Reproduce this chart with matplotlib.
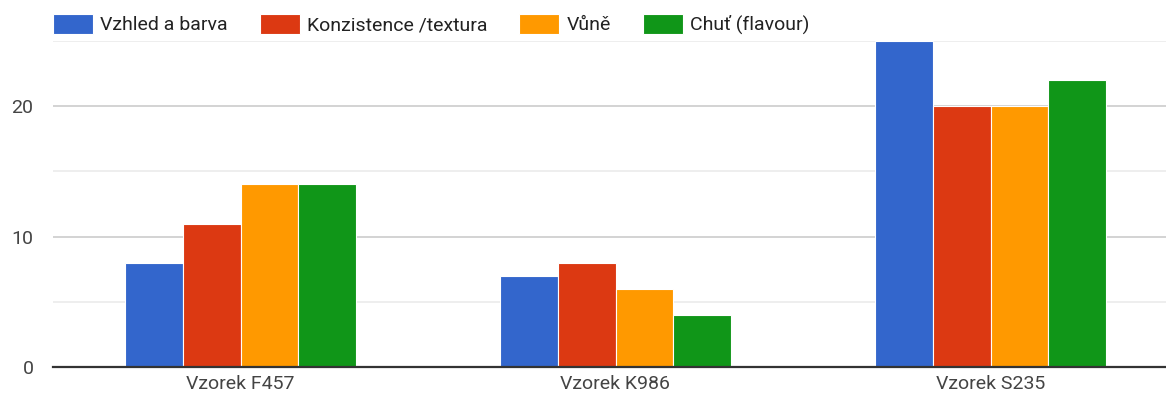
import matplotlib
matplotlib.use('Agg')
import matplotlib.pyplot as plt
import numpy as np

# data
samples = ['Vzorek F457', 'Vzorek K986', 'Vzorek S235']
series = ['Vzhled a barva', 'Konzistence /textura', 'Vůně', 'Chuť (flavour)']
vzhled = [8, 7, 25]
konzistence = [11, 8, 20]
vune = [14, 6, 20]
chut = [14, 4, 22]
colors = ['#3366cc', '#dc3912', '#ff9900', '#109618']

plt.rcParams['font.family'] = ['Roboto', 'DejaVu Sans']

fig = plt.figure(figsize=(11.66, 4.03), dpi=100)
ax = fig.add_axes([53 / 1166, 1 - 367 / 403, 1125 / 1166, 326 / 403])

x = np.arange(len(samples))
group_w = 0.616
bar_w = group_w / 4
values = [vzhled, konzistence, vune, chut]
for i, vals in enumerate(values):
    offs = -group_w / 2 + bar_w * (i + 0.5)
    ax.bar(x + offs, vals, width=bar_w, color=colors[i], edgecolor='white',
           linewidth=0.8, label=series[i], zorder=3)

ax.set_xlim(-0.5, 2.5)
ax.set_ylim(0, 25)
ax.set_yticks([0, 10, 20])
ax.set_yticks([5, 15, 25], minor=True)
ax.set_xticks(x)
ax.set_xticklabels(samples)
ax.grid(axis='y', which='major', color='#cccccc', linewidth=1.2, zorder=0)
ax.grid(axis='y', which='minor', color='#ebebeb', linewidth=1.2, zorder=0)
ax.tick_params(axis='both', which='both', length=0, labelsize=14, labelcolor='#444444')
ax.tick_params(axis='y', pad=14)
ax.tick_params(axis='x', pad=6)
for s in ['top', 'right', 'left']:
    ax.spines[s].set_visible(False)
ax.spines['bottom'].set_color('#333333')
ax.spines['bottom'].set_linewidth(1.6)
ax.spines['bottom'].set_zorder(4)

fig.legend(loc='center left', bbox_to_anchor=(53 / 1166, 1 - 24 / 403), ncol=4,
           frameon=False, fontsize=14, handlelength=2.06, handleheight=1.2,
           handletextpad=0.36, columnspacing=1.65, borderpad=0, borderaxespad=0,
           labelcolor='#222222')

plt.savefig('out.png', dpi=100)
